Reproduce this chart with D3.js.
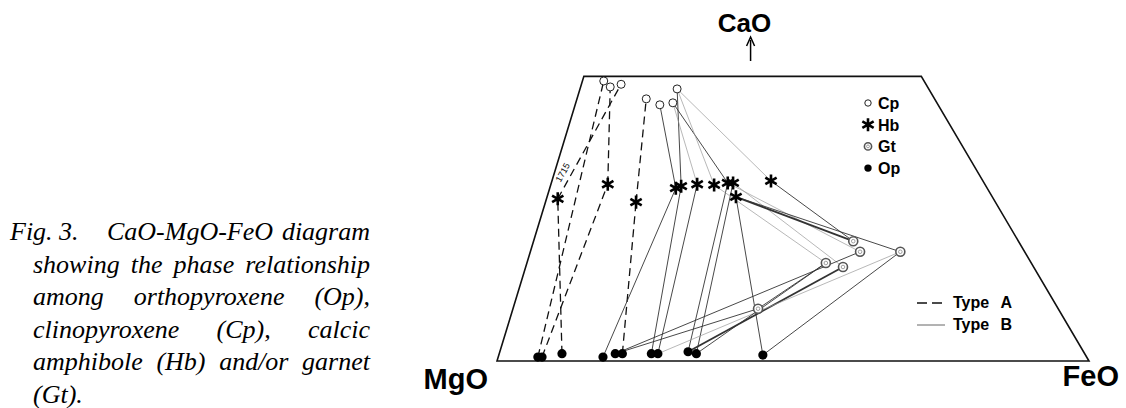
<!DOCTYPE html>
<html lang="en">
<head>
<meta charset="UTF-8">
<title>CaO-MgO-FeO diagram</title>
<script src="https://d3js.org/d3.v7.min.js"></script>
<style>
    body { margin: 0; background: #fff; overflow: hidden; }
    .caption { font-family: "Liberation Serif", "Times New Roman", serif; font-style: italic; font-size: 26px; fill: #000; }
    .corner { font-family: "Liberation Sans", Arial, sans-serif; font-weight: bold; fill: #000; }
    .legend text { font-family: "Liberation Sans", Arial, sans-serif; font-weight: bold; font-size: 16px; fill: #000; }
    .note { font-family: "Liberation Sans", Arial, sans-serif; font-size: 9px; fill: #111; }
</style>
</head>
<body>
<div id="chart"></div>
<script>
// analysed phases, wt% CaO and FeO (MgO = rest)
const pointIds   = ["Op1","Op2","Op3","Op4","Op5","Op6","Op7","Op8","Op9","Op10","Op11",
                    "Hb1","Hb2","Hb3","Hb4","Hb5","Hb6","Hb7","Hb8","Hb9","Hb10","Hb11",
                    "Cp1","Cp2","Cp3","Cp4","Cp5","Cp6","Cp7",
                    "Gt1","Gt2","Gt3","Gt4","Gt5","Gt6"];
const pointPhase = ["Op","Op","Op","Op","Op","Op","Op","Op","Op","Op","Op",
                    "Hb","Hb","Hb","Hb","Hb","Hb","Hb","Hb","Hb","Hb","Hb",
                    "Cp","Cp","Cp","Cp","Cp","Cp","Cp",
                    "Gt","Gt","Gt","Gt","Gt","Gt"];
const pointCaO   = [0.6, 0.6, 1.1, 0.6, 1.1, 1.1, 1.1, 1.1, 1.4, 1.1, 0.9,
                    24.5, 26.7, 24.0, 26.1, 26.4, 26.7, 26.6, 26.9, 26.9, 24.8, 27.2,
                    42.3, 41.4, 41.8, 39.6, 38.7, 39.0, 41.1,
                    18.1, 16.5, 16.5, 14.8, 14.2, 7.9];
const pointFeO   = [6.7, 7.4, 10.6, 17.7, 19.6, 20.8, 25.7, 26.8, 31.8, 33.3, 44.6,
                    1.9, 9.6, 15.3, 21.3, 22.1, 24.7, 27.6, 29.8, 30.7, 31.9, 37.0,
                    3.6, 5.0, 6.7, 11.7, 14.3, 16.4, 16.4,
                    54.0, 55.7, 62.5, 50.5, 53.6, 41.4];

// tie lines: rock type A (dashed) and B (solid); weight 0 faint, 1 normal, 2 heavy
const linkFrom   = ["Op1","Op2","Hb2","Op3","Hb1","Op6","Hb3",
                    "Op4","Hb4","Op7","Hb5","Op8","Hb6","Cp6","Op9","Hb8","Op9","Op10","Hb9",
                    "Op5","Op5","Gt6","Hb7","Hb7","Op8","Op11","Hb10","Op11","Hb10","Cp7","Hb11","Op10"];
const linkTo     = ["Cp1","Hb2","Cp2","Hb1","Cp3","Hb3","Cp4",
                    "Hb4","Cp5","Hb5","Cp7","Hb6","Cp6","Hb8","Hb8","Gt2","Gt5","Hb9","Gt5",
                    "Gt2","Gt6","Gt4","Gt4","Cp7","Gt3","Hb10","Gt3","Gt3","Gt1","Hb11","Gt1","Gt4"];
const linkType   = ["A","A","A","A","A","A","A",
                    "B","B","B","B","B","B","B","B","B","B","B","B",
                    "B","B","B","B","B","B","B","B","B","B","B","B","B"];
const linkWeight = [1,1,1,1,1,1,1,
                    1,1,1,1,1,0,1,1,0,2,1,0,
                    1,1,1,0,0,0,1,1,1,2,0,1,1];

const legendPhases = ["Cp", "Hb", "Gt", "Op"];
const legendTypes = ["Type A", "Type B"];
const sampleNote = "1715";
const caoTop = 43;   // diagram cut off at this CaO

const captionLines = [
    "showing the phase relationship",
    "among orthopyroxene (Op),",
    "clinopyroxene (Cp), calcic",
    "amphibole (Hb) and/or garnet",
    "(Gt)."
];

const svg = d3.select("#chart").append("svg")
    .attr("width", 1126)
    .attr("height", 408);

// skewed ternary: MgO left, FeO right, CaO up
const y = d3.scaleLinear().domain([0, 100]).range([361, -301]);
const xFe = d3.scaleLinear().domain([0, 100]).range([497, 1089]);
const xLean = d3.scaleLinear().domain([0, 100]).range([0, 202]);
const px = (ca, fe) => xFe(fe) + xLean(ca);

// stretch the gaps between words so a line fills the given width
function justify(t, width) {
    const gaps = t.text().split(" ").length - 1;
    const natural = t.node().getComputedTextLength();
    if (gaps > 0) t.style("word-spacing", ((width - natural) / gaps) + "px");
}

// frame
const frame = [[0, 0], [caoTop, 0], [caoTop, 100 - caoTop], [0, 100]];
svg.append("path")
    .attr("d", d3.line().x(d => px(d[0], d[1])).y(d => y(d[0]))(frame) + "Z")
    .attr("fill", "none")
    .attr("stroke", "#111")
    .attr("stroke-width", 1.6);

// corner labels
const topMid = (px(caoTop, 0) + px(caoTop, 100 - caoTop)) / 2;
svg.append("text").attr("class", "corner")
    .attr("x", topMid - 8).attr("y", 32)
    .attr("text-anchor", "middle")
    .style("font-size", "26px")
    .text("CaO");
svg.append("line")
    .attr("x1", topMid - 2).attr("x2", topMid - 2)
    .attr("y1", 61).attr("y2", 40)
    .attr("stroke", "#000").attr("stroke-width", 1.5);
svg.append("path")
    .attr("d", `M${topMid - 6},46 L${topMid - 2},37 L${topMid + 2},46`)
    .attr("fill", "none").attr("stroke", "#000").attr("stroke-width", 1.5);

svg.append("text").attr("class", "corner")
    .attr("x", px(0, 0) - 9).attr("y", 389)
    .attr("text-anchor", "end")
    .style("font-size", "29px")
    .text("MgO");
svg.append("text").attr("class", "corner")
    .attr("x", px(0, 100) + 30).attr("y", 386)
    .attr("text-anchor", "end")
    .style("font-size", "29px")
    .text("FeO");

// points
const pts = {};
pointIds.forEach((id, i) => {
    pts[id] = { phase: pointPhase[i], x: px(pointCaO[i], pointFeO[i]), y: y(pointCaO[i]) };
});

// tie lines
const links = linkFrom.map((f, i) => ({ a: pts[f], b: pts[linkTo[i]], type: linkType[i], w: linkWeight[i] }));
svg.append("g").selectAll("line")
    .data(links)
    .enter().append("line")
    .attr("x1", d => d.a.x).attr("y1", d => d.a.y)
    .attr("x2", d => d.b.x).attr("y2", d => d.b.y)
    .attr("stroke", d => d.type == "A" ? "#111" : (d.w == 0 ? "#999" : "#333"))
    .attr("stroke-width", d => d.type == "A" ? 1.3 : [0.7, 0.9, 1.8][d.w])
    .attr("stroke-dasharray", d => d.type == "A" ? "8,5" : null);

// sample number along its tie line
const noteLink = links[4];
const ang = Math.atan2(noteLink.b.y - noteLink.a.y, noteLink.b.x - noteLink.a.x) * 180 / Math.PI;
const nx = noteLink.a.x + (noteLink.b.x - noteLink.a.x) * 0.2 - 5;
const ny = noteLink.a.y + (noteLink.b.y - noteLink.a.y) * 0.2 - 2;
svg.append("text").attr("class", "note")
    .attr("transform", `translate(${nx},${ny}) rotate(${ang})`)
    .attr("text-anchor", "middle")
    .text(sampleNote);

// markers
function marker(g, phase, x, y, k) {
    if (phase == "Op") {
        g.append("circle").attr("cx", x).attr("cy", y).attr("r", 4.6 * k).attr("fill", "#000");
    } else if (phase == "Cp") {
        g.append("circle").attr("cx", x).attr("cy", y).attr("r", 4 * k)
            .attr("fill", "#fff").attr("stroke", "#222").attr("stroke-width", 1);
    } else if (phase == "Gt") {
        g.append("circle").attr("cx", x).attr("cy", y).attr("r", 4.5 * k)
            .attr("fill", "#fff").attr("stroke", "#555").attr("stroke-width", 1.6);
        g.append("circle").attr("cx", x).attr("cy", y).attr("r", 1.8 * k)
            .attr("fill", "#fff").attr("stroke", "#888").attr("stroke-width", 0.8);
    } else {
        g.append("path")
            .attr("transform", `translate(${x},${y})`)
            .attr("d", d3.symbol().type(d3.symbolAsterisk).size(120 * k * k)())
            .attr("fill", "none").attr("stroke", "#000").attr("stroke-width", 2.6);
    }
}

const mg = svg.append("g");
Object.values(pts).forEach(p => marker(mg, p.phase, p.x, p.y, 1));

// legend
const legend = svg.append("g").attr("class", "legend");
legendPhases.forEach((ph, i) => {
    const ly = 103 + i * 21.7;
    marker(legend, ph, 868, ly, ph == "Hb" ? 1 : 0.8);
    legend.append("text").attr("x", 878).attr("y", ly + 6).text(ph);
});
legendTypes.forEach((t, i) => {
    const ly = 303 + i * 22;
    legend.append("line")
        .attr("x1", 917).attr("x2", 945)
        .attr("y1", ly).attr("y2", ly)
        .attr("stroke", i == 0 ? "#111" : "#555")
        .attr("stroke-width", i == 0 ? 1.3 : 0.9)
        .attr("stroke-dasharray", i == 0 ? "10,5" : null);
    const lt = legend.append("text").attr("x", 953).attr("y", ly + 5)
        .style("font-size", "16px")
        .text(t);
    justify(lt, 59);
});

// caption
const cap = svg.append("g").attr("class", "caption");
cap.append("text").attr("x", 10).attr("y", 240).text("Fig. 3.");
justify(cap.append("text").attr("x", 107).attr("y", 240).text("CaO-MgO-FeO diagram"), 263);
captionLines.forEach((line, i) => {
    const t = cap.append("text").attr("x", 33).attr("y", 272.5 + i * 32.5).text(line);
    if (i < captionLines.length - 1) justify(t, 337);
});
</script>
</body>
</html>
